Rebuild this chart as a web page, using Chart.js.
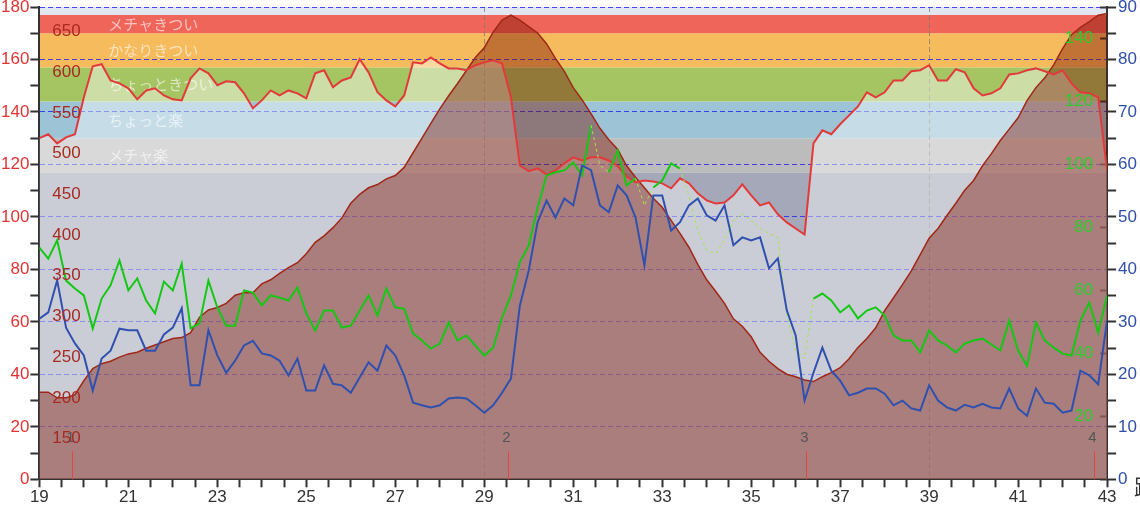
<!DOCTYPE html>
<html>
<head>
<meta charset="utf-8">
<script src="https://cdn.jsdelivr.net/npm/chart.js@4.4.1/dist/chart.umd.min.js"></script>
<style>
  html, body { margin: 0; padding: 0; background: #fff; }
  #wrap { width: 1140px; height: 508px; }
</style>
</head>
<body>
<div id="wrap"><canvas id="ride" width="1140" height="508"></canvas></div>
<script>
// sampling grid of the log, km
const kmStart = 19;
const kmStep = 0.2;

// altitude (m)
const elevation = [
  207, 207, 200, 200, 204, 221, 236, 242, 245, 250,
  254, 256, 261, 265, 269, 273, 274, 280, 299, 308,
  311, 316, 326, 329, 329, 340, 345, 353, 360, 366,
  377, 391, 399, 409, 421, 439, 450, 458, 462, 469,
  473, 483, 501, 519, 537, 555, 571, 586, 602, 618,
  630, 649, 664, 670, 664, 656, 648, 635, 617, 601,
  581, 566, 549, 531, 517, 505, 485, 471, 458, 445,
  434, 418, 402, 385, 364, 345, 331, 316, 297, 288,
  275, 256, 245, 236, 229, 226, 222, 220, 226, 231,
  237, 248, 262, 273, 286, 307, 323, 339, 356, 376,
  396, 408, 424, 439, 455, 467, 485, 500, 516, 530,
  544, 565, 581, 593, 609, 629, 646, 655, 662, 670,
  672
];

// heart rate (bpm)
const heartRate = [
  130, 131.5, 128, 130.3, 131.5, 145.6, 157.4, 158.2, 152, 150.9,
  149, 144.8, 148.2, 149, 146.3, 144.8, 144.4, 152.8, 156.6, 154.7,
  150.2, 151.7, 151.3, 147.1, 141.4, 144.4, 148.2, 146.3, 148.2, 147.1,
  145.2, 154.7, 155.9, 149.4, 152, 153.2, 160.1, 155.1, 147.5, 144.4,
  142.1, 146.3, 158.9, 158.5, 160.8, 158.5, 156.6, 156.6, 155.9, 157.8,
  158.9, 159.7, 158.5, 145.6, 119.6, 117.4, 118.5, 116.2, 117.7, 120.4,
  122.7, 121.5, 122.7, 122.7, 121.5, 119.3, 115.4, 113.2, 113.9, 113.5,
  112.8, 110.9, 114.7, 112.8, 109, 106.3, 105.1, 105.5, 108.2, 112.4,
  108.2, 104.4, 105.5, 101, 97.9, 95.6, 93.3, 128, 133, 131.5,
  135.3, 138.7, 142.1, 147.5, 145.6, 147.5, 152, 152, 155.5, 155.9,
  157.8, 152, 152, 156.3, 155.1, 149, 146.3, 147.1, 149, 154.3,
  154.7, 155.9, 156.6, 155.5, 154.3, 155.9, 150.9, 147.5, 147.1, 145.6,
  117.7
];

// speed (km/h)
const speed = [
  30.6, 31.8, 37.9, 28.9, 25.9, 23.6, 16.9, 23, 24.5, 28.7,
  28.4, 28.4, 24.5, 24.5, 27.6, 28.9, 32.6, 17.9, 17.9, 28.4,
  23.6, 20.3, 22.6, 25.5, 26.4, 24, 23.6, 22.6, 19.8, 23,
  16.9, 16.9, 21.7, 18.2, 17.9, 16.5, 19.4, 22.3, 20.7, 25.5,
  23.6, 19.8, 14.6, 14.1, 13.7, 14.1, 15.4, 15.6, 15.4, 14.1,
  12.7, 14.1, 16.5, 19.2, 33.1, 39.8, 49, 53.1, 49.9, 53.5,
  52.2, 59.8, 58.9, 52.2, 50.9, 56, 54.1, 49.9, 40.8, 54.1,
  54.1, 47.4, 49, 52.2, 53.5, 50.3, 49.3, 52.2, 44.6, 46.1,
  45.5, 46.1, 40.2, 42.1, 32.2, 27.4, 15, 20.3, 25.1, 20.7,
  18.8, 16, 16.5, 17.3, 17.3, 16.3, 14.1, 15, 13.5, 13.1,
  17.9, 15, 13.7, 13.1, 14.2, 13.7, 14.4, 13.7, 13.5, 17.3,
  13.5, 12.1, 17.3, 14.6, 14.4, 12.7, 13.1, 20.7, 19.8, 18.1,
  30.3
];

// cadence (rpm)
const cadence = [
  73.6, 70.1, 75.9, 63.1, 60.6, 58.4, 47.9, 57.4, 61.6, 69.5,
  60, 63.8, 56.8, 52.7, 62.8, 60, 68.5, 47.9, 49.5, 63.1,
  54.6, 48.8, 48.8, 60, 59.3, 55.2, 58.4, 57.7, 56.8, 60.9,
  52.7, 47.3, 53.6, 53.6, 48.2, 48.8, 53.6, 58.4, 52, 60.6,
  54.6, 54.2, 46.3, 44.1, 41.5, 43.1, 49.8, 44.1, 45.7, 42.5,
  39.3, 41.8, 51.4, 58.4, 68.9, 74.3, 86.3, 96.5, 97.5, 98.1,
  100.6, 96.5, 112.4, 99.7, 97.5, 104.4, 93.3, 95.6, 87, 92.7,
  94.9, 100.3, 98.7, 90.1, 79, 72.7, 71.7, 75.9, 82.2, 84.4,
  82.2, 79.7, 78.1, 76.8, 52, 40.9, 38.4, 57.4, 59, 56.8,
  53, 55.2, 51.1, 53.6, 54.6, 52, 45.7, 44.1, 44.1, 40.3,
  47.3, 44.1, 42.5, 40.3, 43.1, 44.1, 44.7, 42.8, 40.9, 50.4,
  40.9, 36.1, 49.8, 44.1, 41.8, 39.9, 39.3, 50.4, 56.1, 46.6,
  58.4
];

// stretches where the cadence sensor dropped out (drawn dashed)
const cadenceGapKm = [[31.4, 31.8], [32.4, 32.8], [33.4, 36.4]];

// heart-rate zones (bpm edges) and their names
const zoneEdges = [0, 117, 130, 144, 157, 170, 177, 180];
const zoneNames = ["", "メチャ楽", "ちょっと楽", "ちょっときつい", "かなりきつい", "メチャきつい", ""];
const zoneColors = ["#a4a8b8", "#bcbcbc", "#9cc4d6", "#a5c462", "#f5bb5c", "#f0655a", "#e2e6f0"];

// lap markers
const lapKm = [19.74, 29.53, 36.24, 42.71];
const lapNames = ["1", "2", "3", "4"];

const km = heartRate.map((_, i) => +(kmStart + i * kmStep).toFixed(1));
const pts = (arr) => km.map((x, i) => ({ x, y: arr[i] }));

function inCadenceGap(ctx) {
  const a = ctx.p0.parsed.x, b = ctx.p1.parsed.x;
  return cadenceGapKm.some(([s, e]) => a >= s - 0.01 && b <= e + 0.01);
}

// overlay axes sit inside the plot, so they take no room
const flatAxis = (s) => { s.width = 0; s.paddingTop = 0; s.paddingBottom = 0; };
const outerAxis = (s) => { s.paddingTop = 7; s.paddingBottom = 0; };

const zonePlugin = {
  id: "zones",
  beforeDraw(chart) {
    const { ctx, chartArea: area, scales } = chart;
    const y = scales.yHR;
    ctx.save();
    for (let i = 0; i < zoneColors.length; i++) {
      const top = y.getPixelForValue(zoneEdges[i + 1]);
      const bottom = y.getPixelForValue(zoneEdges[i]);
      ctx.fillStyle = zoneColors[i];
      ctx.fillRect(area.left, top, area.right - area.left, bottom - top);
    }
    ctx.font = "15px 'Noto Sans CJK JP'";
    ctx.textBaseline = "middle";
    ctx.fillStyle = "rgba(255,255,255,0.6)";
    zoneNames.forEach((name, i) => {
      if (!name) return;
      const mid = y.getPixelForValue((zoneEdges[i] + zoneEdges[i + 1]) / 2);
      ctx.fillText(name, area.left + 69, mid);
    });
    ctx.restore();
  },
  afterDatasetsDraw(chart) {
    const { ctx, chartArea: area, scales } = chart;
    ctx.save();
    ctx.strokeStyle = "#e04848";
    ctx.lineWidth = 1;
    ctx.font = "15px 'Liberation Sans'";
    ctx.textAlign = "center";
    ctx.textBaseline = "middle";
    ctx.fillStyle = "#555";
    lapKm.forEach((k, i) => {
      const x = Math.round(scales.x.getPixelForValue(k)) + 0.5;
      ctx.beginPath();
      ctx.moveTo(x, area.bottom - 28);
      ctx.lineTo(x, area.bottom);
      ctx.stroke();
      ctx.fillText(lapNames[i], x - 2, area.bottom - 41);
    });
    ctx.restore();
  },
  afterDraw(chart) {
    const { ctx, chartArea: area } = chart;
    ctx.save();
    ctx.font = "22px 'Noto Sans CJK JP'";
    ctx.fillStyle = "#333";
    ctx.textBaseline = "top";
    ctx.fillText("距離", area.right + 27, area.bottom - 4);
    ctx.restore();
  }
};

Chart.defaults.font.family = "'Liberation Sans', Arial, sans-serif";
Chart.defaults.font.size = 17;

new Chart(document.getElementById("ride"), {
  type: "line",
  data: {
    datasets: [
      {
        label: "速度",
        data: pts(speed),
        yAxisID: "ySpeed",
        borderColor: "#3050b0",
        borderWidth: 2,
        pointRadius: 0,
        fill: false,
        order: 0
      },
      {
        label: "ケイデンス",
        data: pts(cadence),
        yAxisID: "yCad",
        borderColor: "#14c814",
        borderWidth: 2,
        pointRadius: 0,
        fill: false,
        order: 1,
        segment: {
          borderColor: (ctx) => (inCadenceGap(ctx) ? "#a4e64c" : undefined),
          borderDash: (ctx) => (inCadenceGap(ctx) ? [3, 3] : undefined),
          borderWidth: (ctx) => (inCadenceGap(ctx) ? 1 : undefined)
        }
      },
      {
        label: "心拍",
        data: pts(heartRate),
        yAxisID: "yHR",
        borderColor: "#e23a3a",
        borderWidth: 2,
        pointRadius: 0,
        fill: false,
        order: 2
      },
      {
        label: "標高",
        data: pts(elevation),
        yAxisID: "yEle",
        borderColor: "#a02818",
        borderWidth: 1.5,
        backgroundColor: "rgba(121,17,0,0.42)",
        pointRadius: 0,
        fill: "start",
        order: 3
      },
      {
        label: "心拍 (面)",
        data: pts(heartRate),
        yAxisID: "yHR",
        borderColor: "transparent",
        backgroundColor: "rgba(255,255,255,0.43)",
        pointRadius: 0,
        fill: "start",
        order: 5
      }
    ]
  },
  options: {
    responsive: false,
    animation: false,
    layout: { padding: { top: 7, right: 1, bottom: 0, left: 0 } },
    plugins: {
      legend: { display: false },
      tooltip: { enabled: false },
      filler: { drawTime: "beforeDatasetsDraw" }
    },
    scales: {
      x: {
        type: "linear",
        position: "bottom",
        min: 19,
        max: 43,
        ticks: {
          stepSize: 0.5,
          autoSkip: false,
          maxRotation: 0,
          padding: 1,
          color: "#333",
          font: { size: 17, lineHeight: 1.1 },
          callback: (v) => (Math.round((v - 19) * 2) % 4 === 0 ? String(v) : "")
        },
        grid: {
          color: (c) => {
            const v = c.tick && c.tick.value;
            return v === 29 || v === 39 ? "rgba(120,120,120,0.7)" : "transparent";
          },
          lineWidth: 1,
          tickColor: "#333",
          tickLength: 8,
          tickWidth: 2,
          tickBorderDash: []
        },
        border: { color: "#333", width: 2, dash: [5, 3] }
      },
      yHR: {
        position: "left",
        weight: 1,
        min: 0,
        max: 180,
        afterFit: outerAxis,
        ticks: {
          stepSize: 10,
          padding: 1,
          color: "#e03434",
          callback: (v) => (v % 20 === 0 ? v : "")
        },
        grid: {
          color: (c) => {
            const v = c.tick && c.tick.value;
            return v > 0 && v % 20 === 0 ? "rgba(40,40,240,0.85)" : "transparent";
          },
          lineWidth: 1,
          tickColor: "#333",
          tickLength: 9,
          tickWidth: 2,
          tickBorderDash: []
        },
        border: { color: "#333", width: 2, dash: [5, 3] }
      },
      yEle: {
        position: "left",
        weight: 0,
        min: 100,
        max: 680,
        afterFit: flatAxis,
        ticks: {
          mirror: true,
          stepSize: 50,
          padding: 13,
          z: 1,
          color: "#a82a22",
          callback: (v) => (v > 100 && v % 50 === 0 ? v : "")
        },
        grid: { display: false },
        border: { display: false }
      },
      ySpeed: {
        position: "right",
        weight: 1,
        min: 0,
        max: 90,
        afterFit: outerAxis,
        ticks: {
          stepSize: 5,
          padding: 2,
          color: "#3050a8",
          callback: (v) => (v % 10 === 0 ? v : "")
        },
        grid: {
          drawOnChartArea: false,
          tickColor: "#333",
          tickLength: 9,
          tickWidth: 2
        },
        border: { color: "#333", width: 2 }
      },
      yCad: {
        position: "right",
        weight: 0,
        min: 0,
        max: 150,
        afterFit: flatAxis,
        ticks: {
          mirror: true,
          stepSize: 20,
          padding: -14,
          z: 1,
          color: "#2ccc2c",
          callback: (v) => (v > 0 && v % 20 === 0 ? v : "")
        },
        grid: {
          drawOnChartArea: false,
          tickColor: "#333",
          tickLength: -7,
          tickWidth: 2
        },
        border: { display: false }
      }
    }
  },
  plugins: [zonePlugin]
});
</script>
</body>
</html>
